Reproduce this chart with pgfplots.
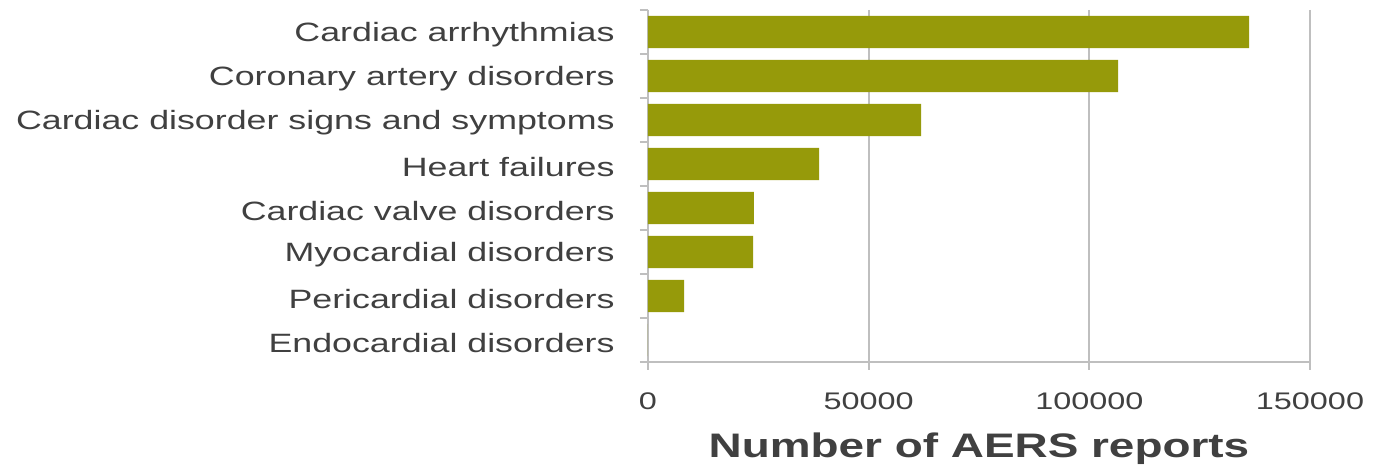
\documentclass[border=0pt]{standalone}
\usepackage{fontspec}
\setmainfont{Liberation Sans}[FakeStretch=1.35]
\usepackage{pgfplots}
\pgfplotsset{compat=1.18}
\definecolor{barc}{RGB}{150,154,10}
\definecolor{txt}{RGB}{64,64,64}
\definecolor{axc}{RGB}{191,191,191}
\begin{document}
\begin{tikzpicture}
\begin{axis}[
  name=a,
  scale only axis, width=331pt, height=176pt,
  xbar, bar width=0.73,
  xmin=0, xmax=150000, ymin=-0.5, ymax=7.5, y dir=reverse,
  axis x line*=bottom, axis y line*=left,
  axis line style={axc, line width=1pt, -},
  scaled x ticks=false,
  xtick={0,50000,100000,150000},
  xticklabels={0,50000,100000,150000},
  ytick={0,...,7},
  yticklabels={Cardiac arrhythmias,Coronary artery disorders,Cardiac disorder signs and symptoms,Heart failures,Cardiac valve disorders,Myocardial disorders,Pericardial disorders,Endocardial disorders},
  major y tick style={draw=none},
  minor ytick={-0.5,0.5,...,7.5},
  minor y tick style={axc, line width=1pt},
  x tick style={axc, line width=1pt},
  major tick length=4pt, minor tick length=4pt,
  tick align=outside,
  xmajorgrids, grid style={axc, line width=1pt},
  yticklabel style={inner sep=0pt, font=\fontsize{13.25}{16}\selectfont, text=txt, xshift=-12.5pt, yshift=-1.5pt},
  xticklabel style={anchor=north, inner sep=0pt, font=\fontsize{12}{15}\selectfont, text=txt, yshift=-11pt},
  xlabel={Number of AERS reports},
  xlabel style={at={(axis description cs:0.5,0)}, anchor=center, yshift=-43.5pt, font=\bfseries\fontsize{17}{20}\selectfont, text=txt},
]
\addplot[fill=barc, draw=none] coordinates {
  (136200,0) (106500,1) (61900,2) (38800,3) (24000,4) (23800,5) (8200,6) (0,7)
};
\end{axis}
\path ([xshift=-324pt,yshift=-54pt]a.south west) rectangle ([xshift=34pt,yshift=5pt]a.north east);
\end{tikzpicture}
\end{document}
